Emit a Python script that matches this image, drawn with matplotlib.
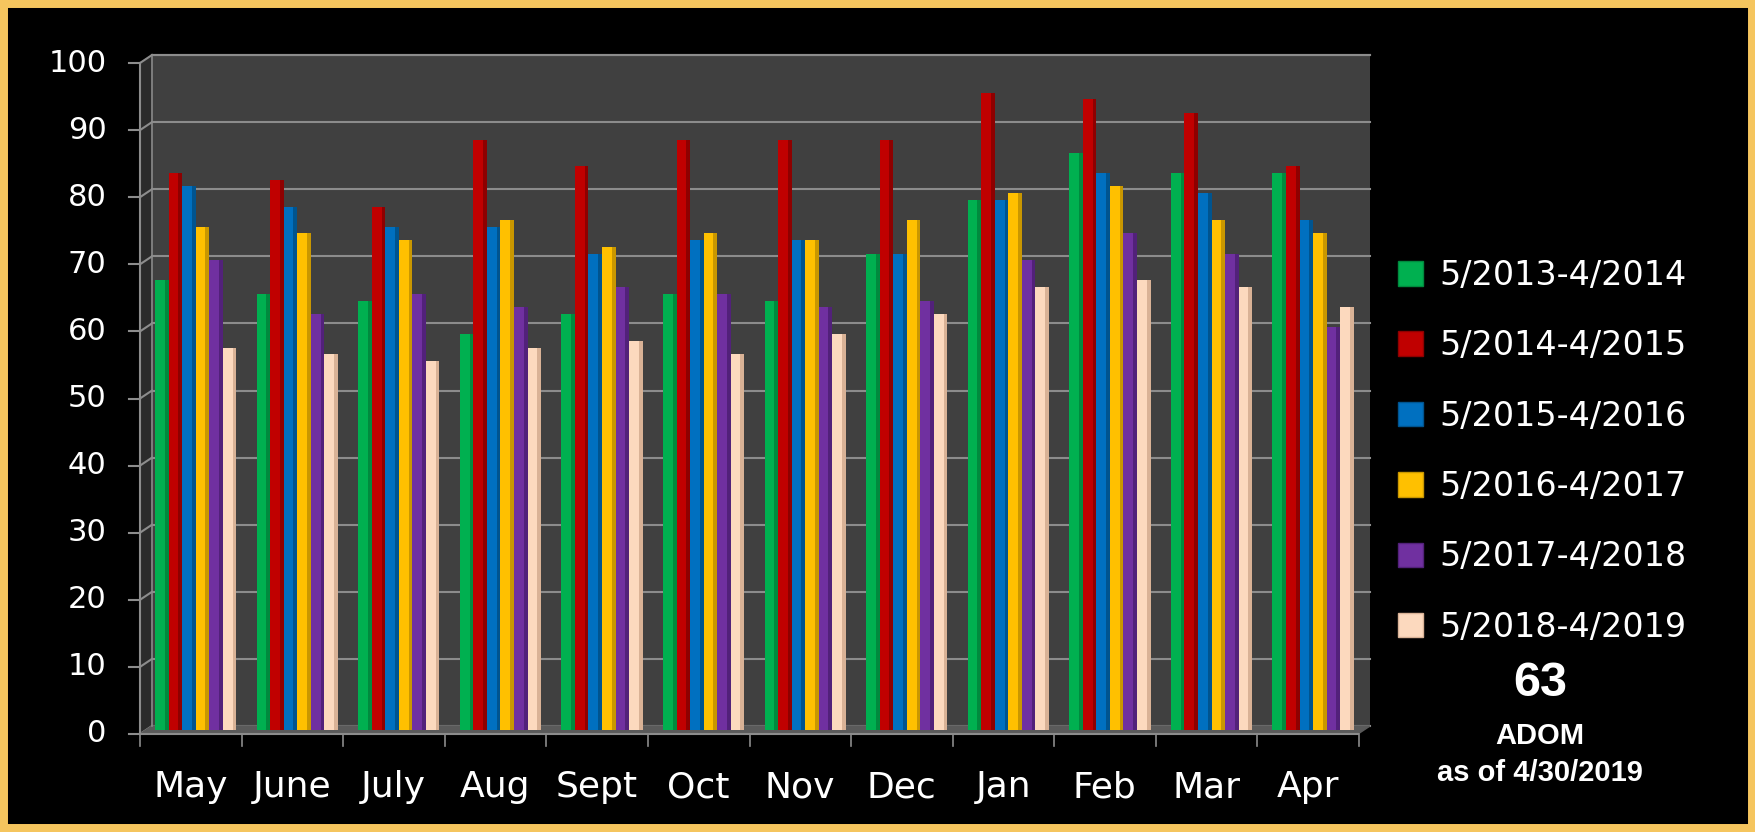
import matplotlib.pyplot as plt
from matplotlib.patches import Rectangle, Polygon, Patch
import numpy as np

months = ['May', 'June', 'July', 'Aug', 'Sept', 'Oct', 'Nov', 'Dec', 'Jan', 'Feb', 'Mar', 'Apr']
seasons = ['5/2013-4/2014', '5/2014-4/2015', '5/2015-4/2016',
           '5/2016-4/2017', '5/2017-4/2018', '5/2018-4/2019']

s2013 = [67, 65, 64, 59, 62, 65, 64, 71, 79, 86, 83, 83]
s2014 = [83, 82, 78, 88, 84, 88, 88, 88, 95, 94, 92, 84]
s2015 = [81, 78, 75, 75, 71, 73, 73, 71, 79, 83, 80, 76]
s2016 = [75, 74, 73, 76, 72, 74, 73, 76, 80, 81, 76, 74]
s2017 = [70, 62, 65, 63, 66, 65, 63, 64, 70, 74, 71, 60]
s2018 = [57, 56, 55, 57, 58, 56, 59, 62, 66, 67, 66, 63]
series = [s2013, s2014, s2015, s2016, s2017, s2018]

colors = ['#00B050', '#C00000', '#0070C0', '#FFC000', '#7030A0', '#FCD9BE']
shades = ['#008a3e', '#8e0000', '#00548f', '#c99700', '#52217a', '#d9b296']

W, H = 1756, 832
fig = plt.figure(figsize=(W / 100, H / 100), dpi=100, facecolor='black')
ax = fig.add_axes([152 / W, 106 / H, (1370 - 152) / W, (777 - 106) / H])
ax.set_facecolor('#404040')
x0, x1 = -0.43, 11.56
ax.set_xlim(x0, x1)
ax.set_ylim(0, 100)
for s in ax.spines.values():
    s.set_visible(False)
ax.set_xticks([])
ax.set_yticks([])

# pseudo 3d depth offsets (12px left, 8px down) in data units
dx = 12 / ((1370 - 152) / (x1 - x0))
dy = 8 / ((777 - 106) / 100)
grey = '#8c8c8c'

ax.add_patch(Polygon([(x0 - dx, -dy), (x0 - dx, 100 - dy), (x0, 100), (x0, 0)],
                     closed=True, color='#2b2b2b', clip_on=False, zorder=0))
ax.add_patch(Polygon([(x0 - dx, -dy), (x1 - dx, -dy), (x1, 0), (x0, 0)],
                     closed=True, color='#5a5a5a', clip_on=False, zorder=2))

for v in range(0, 101, 10):
    ax.plot([x0, x1], [v, v], color=grey, lw=1.5, zorder=1, clip_on=False)
    ax.plot([x0 - dx, x0], [v - dy, v], color=grey, lw=1.5, zorder=1, clip_on=False)
    ax.plot([x0 - dx - 0.11, x0 - dx], [v - dy, v - dy], color=grey, lw=1.5, clip_on=False)
    ax.text(x0 - dx - 0.33, v - dy, str(v), ha='right', va='center',
            color='white', fontsize=22)
ax.plot([x0 - dx, x0 - dx], [-dy, 100 - dy], color=grey, lw=1.5, clip_on=False)
ax.plot([x0, x0], [0, 100], color=grey, lw=1.2, clip_on=False)
ax.plot([x0, x1], [100, 100], color=grey, lw=1.5, clip_on=False)
ax.plot([x0 - dx, x1 - dx], [-dy, -dy], color=grey, lw=1.5, clip_on=False, zorder=5)
for k in range(13):
    ax.plot([x0 - dx + k, x0 - dx + k], [-dy, -dy - 1.8], color=grey, lw=1.2, clip_on=False)

# bars sit at mid depth between back wall and front edge
x = np.arange(len(months))
w = 0.8 / 6
base = -dy / 2
for j, vals in enumerate(series):
    off = (j - 2.5) * w
    ax.bar(x + off, vals, w, bottom=base, color=colors[j], zorder=3, clip_on=False)
    ax.bar(x + off + w * 0.36, vals, w * 0.28, bottom=base, color=shades[j], zorder=4,
           clip_on=False)

for i, m in enumerate(months):
    ax.text(i - 0.05, -9.1, m, ha='center', va='center', color='white', fontsize=26)

handles = [Patch(facecolor=c, edgecolor=s, lw=1) for c, s in zip(colors, shades)]
fig.legend(handles, seasons, loc='upper left', bbox_to_anchor=(1368 / W, 1 - 229 / H),
           frameon=False, fontsize=24, labelcolor='white', handlelength=0.75,
           handleheight=0.75, handletextpad=0.5, labelspacing=1.12)

fig.text(1540 / W, 1 - 683 / H, '63', ha='center', va='center', color='white',
         fontsize=35, fontweight='bold', family='Liberation Sans')
fig.text(1540 / W, 1 - 736 / H, 'ADOM', ha='center', va='center', color='white',
         fontsize=21, fontweight='bold', family='Liberation Sans')
fig.text(1540 / W, 1 - 773 / H, 'as of 4/30/2019', ha='center', va='center', color='white',
         fontsize=21, fontweight='bold', family='Liberation Sans')

fig.patches.append(Rectangle((0, 0), 1, 1, transform=fig.transFigure, fill=False,
                             edgecolor='#F5C55E', linewidth=11.5))

fig.savefig('out.png', dpi=100, facecolor='black')
